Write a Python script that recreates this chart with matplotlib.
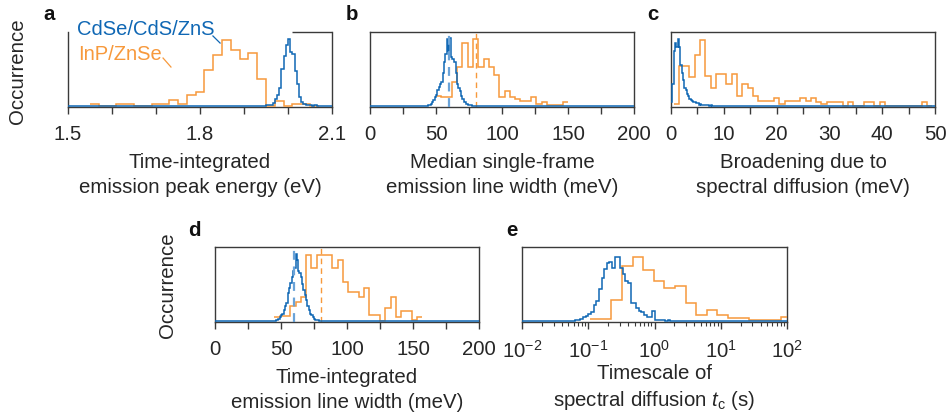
"""Five-panel histogram comparison: CdSe/CdS/ZnS vs InP/ZnSe quantum dots."""
import numpy as np
import matplotlib
matplotlib.use("Agg")
import matplotlib.pyplot as plt
from matplotlib.ticker import LogLocator, NullFormatter

FS = 14.7
plt.rcParams["font.family"] = ["Liberation Sans", "DejaVu Sans"]
plt.rcParams["font.size"] = FS
plt.rcParams["mathtext.fontset"] = "custom"
plt.rcParams["mathtext.rm"] = "Liberation Sans"
plt.rcParams["mathtext.it"] = "Liberation Sans:italic"
plt.rcParams["axes.linewidth"] = 1.0

BLUE = "#0f67b4"
BLUE_LIGHT = "#6aa3d8"
ORANGE = "#f7993c"
TEXT = "#262626"
SPINE = "#3a3a3a"

# --- a: time-integrated emission peak energy (eV) ---
a_orange_edges = [1.55, 1.57, 1.59, 1.61, 1.63, 1.65, 1.67, 1.69, 1.71, 1.73,
                  1.75, 1.77, 1.79, 1.81, 1.83, 1.85, 1.87, 1.89, 1.91, 1.93,
                  1.95, 1.97, 1.99, 2.01, 2.03, 2.05, 2.07]
a_orange = [0.035, 0, 0, 0.035, 0.035, 0, 0, 0.035, 0.035, 0.08,
            0.035, 0.155, 0.19, 0.49, 0.69, 0.89, 0.76, 0.63, 0.71, 0.36,
            0.0, 0.07, 0.0, 0.035, 0.035, 0]
a_blue_start, a_blue_width = 1.945, 0.005
a_blue = [0.0, 0.01, 0.01, 0.02, 0.04, 0.09, 0.15, 0.25, 0.5, 0.68,
          0.82, 0.9, 0.73, 0.7, 0.48, 0.3, 0.12, 0.06, 0.03, 0.02,
          0.01, 0.01, 0.0, 0.01, 0]

# --- b: median single-frame emission line width (meV) ---
b_orange_start, b_orange_width = 50, 4
b_orange = [0.14, 0.12, 0.12, 0.33, 0.53, 0.85, 0.53, 0.9, 0.53, 0.64,
            0.53, 0.42, 0.12, 0.2, 0.12, 0.1, 0.07, 0.07, 0.12, 0.03,
            0.06, 0.01, 0.01, 0.01, 0.05]
b_blue_start, b_blue_width = 44, 1
b_blue = [0.01, 0.02, 0.03, 0.05, 0.08, 0.12, 0.15, 0.22, 0.26, 0.3,
          0.32, 0.45, 0.6, 0.7, 0.9, 0.75, 0.92, 0.66, 0.64, 0.63,
          0.6, 0.45, 0.3, 0.25, 0.2, 0.13, 0.1, 0.05, 0.05, 0.03,
          0.02, 0.01, 0.01, 0]
b_medians = {"blue": 60, "orange": 80}

# --- c: broadening due to spectral diffusion (meV) ---
c_orange_start, c_orange_width = 0.5, 1
c_orange = [0.03, 0.54, 0.54, 0.39, 0.69, 0.89, 0.4, 0.24, 0.44, 0.44,
            0.3, 0.44, 0.14, 0.3, 0.24, 0.14, 0.07, 0.07, 0.07, 0.11,
            0.03, 0.07, 0.07, 0.07, 0.11, 0.07, 0.11, 0.05, 0.03, 0.05,
            0.05, 0.05, 0, 0.05, 0, 0, 0.05, 0.05, 0, 0.05,
            0, 0, 0, 0, 0, 0, 0, 0.05, 0]
c_blue_start, c_blue_width = 0.0, 0.25
c_blue = [0.05, 0.3, 0.75, 0.85, 0.8, 0.9, 0.8, 0.55, 0.45, 0.35,
          0.25, 0.22, 0.16, 0.13, 0.1, 0.08, 0.07, 0.06, 0.05, 0.04,
          0.04, 0.02, 0.03, 0.02, 0.01, 0.01, 0.02, 0.01, 0.01, 0.0,
          0.01, 0.0]

# --- d: time-integrated emission line width (meV) ---
d_orange_start, d_orange_width = 45, 4
d_orange = [0.06, 0.07, 0.07, 0.2, 0.26, 0.32, 0.89, 0.72, 0.89, 0.89,
            0.89, 0.72, 0.83, 0.53, 0.39, 0.39, 0.32, 0.45, 0.08, 0.08,
            0.0, 0.18, 0.32, 0.06, 0.13, 0.13, 0.02, 0.05]
d_blue_start, d_blue_width = 46, 1
d_blue = [0.02, 0.02, 0.03, 0.05, 0.08, 0.1, 0.15, 0.2, 0.25, 0.38,
          0.45, 0.52, 0.6, 0.68, 0.72, 0.9, 0.82, 0.68, 0.65, 0.6,
          0.5, 0.42, 0.35, 0.28, 0.2, 0.15, 0.1, 0.08, 0.05, 0.03,
          0.02, 0.01, 0.01, 0]
d_medians = {"blue": 60, "orange": 80}

# --- e: timescale of spectral diffusion (s), log10 bin edges ---
e_orange_log_edges = [-0.97, -0.81, -0.65, -0.49, -0.33, -0.17, -0.01, 0.15,
                      0.31, 0.47, 0.63, 0.79, 0.95, 1.11, 1.27, 1.43, 1.59,
                      1.75, 1.91, 2.07]
e_orange = [0.03, 0.03, 0.28, 0.74, 0.87, 0.69, 0.54, 0.45, 0.48, 0.24,
            0.08, 0.15, 0.08, 0.04, 0.04, 0.01, 0.01, 0.01, 0.05]
e_blue_log_start, e_blue_log_width = -1.2, 0.04
e_blue = [0.01, 0.02, 0.03, 0.05, 0.07, 0.1, 0.12, 0.22, 0.27, 0.44,
          0.58, 0.7, 0.79, 0.8, 0.71, 0.87, 0.87, 0.71, 0.64, 0.54,
          0.52, 0.24, 0.24, 0.18, 0.13, 0.12, 0.08, 0.06, 0.05, 0.13,
          0.02, 0.01, 0.01, 0.02, 0.0, 0.01, 0.0]


def uniform_edges(start, width, n):
    return start + width * np.arange(n + 1)


def draw_hist(ax, edges, vals, color, xlim, extend=False):
    edges = list(edges)
    vals = list(vals)
    if extend:
        if xlim[0] < edges[0]:
            edges = [xlim[0]] + edges
            vals = [0] + vals
        if xlim[1] > edges[-1]:
            edges = edges + [xlim[1]]
            vals = vals + [0]
    ax.stairs(vals, edges, color=color, linewidth=1.1, baseline=None, zorder=3)


def style_axes(ax, xlim, ticks, labels, xlabel, labelpad=7):
    ax.set_xlim(*xlim)
    ax.set_ylim(-0.012, 1.0)
    ax.set_yticks([])
    if ticks is not None:
        ax.set_xticks(ticks)
        ax.set_xticklabels(labels)
    ax.tick_params(axis="x", direction="out", length=5, width=1.0,
                   colors=SPINE, labelcolor=TEXT, labelsize=FS, pad=7)
    for sp in ax.spines.values():
        sp.set_color(SPINE)
    ax.set_xlabel(xlabel, color=TEXT, fontsize=FS, linespacing=1.35,
                  labelpad=labelpad)


fig = plt.figure(figsize=(9.5, 4.14), dpi=100)

W, H = 950, 414


def add_axes(x0, x1, ytop, ybot):
    return fig.add_axes([x0 / W, 1 - ybot / H, (x1 - x0) / W, (ybot - ytop) / H])


ax_a = add_axes(68, 332, 33, 108)
ax_b = add_axes(370, 634, 33, 108)
ax_c = add_axes(671, 935, 33, 108)
ax_d = add_axes(215, 479, 248, 323)
ax_e = add_axes(522, 787, 248, 323)

# a
xl = (1.5, 2.1)
draw_hist(ax_a, a_orange_edges, a_orange, ORANGE, xl)
draw_hist(ax_a, uniform_edges(a_blue_start, a_blue_width, len(a_blue)), a_blue,
          BLUE, xl, extend=True)
a_ticks = [1.5, 1.6, 1.7, 1.8, 1.9, 2.0, 2.1]
style_axes(ax_a, xl, a_ticks, ["1.5", "", "", "1.8", "", "", "2.1"],
           "Time-integrated\nemission peak energy (eV)")
ax_a.spines["top"].set_visible(False)
ax_a.plot([0.848, 1.0], [1.0, 1.0], transform=ax_a.transAxes, color=SPINE,
          lw=1.0, clip_on=False, solid_capstyle="butt")
ax_a.text(0.034, 0.973, "CdSe/CdS/ZnS", color=BLUE, transform=ax_a.transAxes,
          va="baseline", ha="left", fontsize=14.5)
ax_a.text(0.038, 0.64, "InP/ZnSe", color=ORANGE, transform=ax_a.transAxes,
          va="baseline", ha="left", fontsize=14.5)
ax_a.plot([0.549, 0.576], [0.947, 0.853], transform=ax_a.transAxes,
          color=BLUE, lw=0.9, clip_on=False)
ax_a.plot([0.36, 0.39], [0.653, 0.533], transform=ax_a.transAxes,
          color=ORANGE, lw=0.9, clip_on=False)

# b
xl = (0, 200)
draw_hist(ax_b, uniform_edges(b_orange_start, b_orange_width, len(b_orange)),
          b_orange, ORANGE, xl)
draw_hist(ax_b, uniform_edges(b_blue_start, b_blue_width, len(b_blue)), b_blue,
          BLUE, xl, extend=True)
ax_b.axvline(b_medians["blue"], color=BLUE_LIGHT, lw=1.6, ls=(0, (4, 3)), zorder=4)
ax_b.axvline(b_medians["orange"], color=ORANGE, lw=1.0, ls=(0, (4, 3)), zorder=2)
lin_ticks = [0, 25, 50, 75, 100, 125, 150, 175, 200]
lin_labels = ["0", "", "50", "", "100", "", "150", "", "200"]
style_axes(ax_b, xl, lin_ticks, lin_labels,
           "Median single-frame\nemission line width (meV)")

# c
xl = (0, 50)
draw_hist(ax_c, uniform_edges(c_orange_start, c_orange_width, len(c_orange)),
          c_orange, ORANGE, xl)
draw_hist(ax_c, uniform_edges(c_blue_start, c_blue_width, len(c_blue)), c_blue,
          BLUE, xl, extend=True)
c_ticks = [0, 5, 10, 15, 20, 25, 30, 35, 40, 45, 50]
c_labels = ["0", "", "10", "", "20", "", "30", "", "40", "", "50"]
style_axes(ax_c, xl, c_ticks, c_labels,
           "Broadening due to\nspectral diffusion (meV)")

# d
xl = (0, 200)
draw_hist(ax_d, uniform_edges(d_orange_start, d_orange_width, len(d_orange)),
          d_orange, ORANGE, xl)
draw_hist(ax_d, uniform_edges(d_blue_start, d_blue_width, len(d_blue)), d_blue,
          BLUE, xl, extend=True)
ax_d.axvline(d_medians["blue"], color=BLUE_LIGHT, lw=1.6, ls=(0, (4, 3)), zorder=4)
ax_d.axvline(d_medians["orange"], color=ORANGE, lw=1.0, ls=(0, (4, 3)), zorder=2)
style_axes(ax_d, xl, lin_ticks, lin_labels,
           "Time-integrated\nemission line width (meV)")

# e
xl = (1e-2, 1e2)
ax_e.set_xscale("log")
draw_hist(ax_e, 10 ** np.array(e_orange_log_edges), e_orange, ORANGE, xl)
e_blue_edges = 10 ** uniform_edges(e_blue_log_start, e_blue_log_width, len(e_blue))
draw_hist(ax_e, e_blue_edges, e_blue, BLUE, xl, extend=True)
style_axes(ax_e, xl, None, None,
           "Timescale of\nspectral diffusion $\\it{t}_{\\rm{c}}$ (s)",
           labelpad=2)
ax_e.xaxis.set_major_locator(LogLocator(base=10, numticks=10))
ax_e.xaxis.set_minor_locator(LogLocator(base=10, subs=np.arange(2, 10), numticks=20))
ax_e.xaxis.set_minor_formatter(NullFormatter())
ax_e.tick_params(axis="x", which="minor", direction="out", length=3, width=0.8,
                 colors=SPINE)

# panel letters and y labels
for letter, px, py in [("a", 43, 15), ("b", 346, 15), ("c", 647, 15),
                       ("d", 188, 231), ("e", 506, 231)]:
    fig.text(px / W, 1 - py / H, letter, fontsize=FS, fontweight="bold",
             ha="left", va="center", color="#111111")

fig.text(18 / W, 1 - 71 / H, "Occurrence", rotation=90, ha="center",
         va="center", fontsize=FS, color=TEXT)
fig.text(168 / W, 1 - 285 / H, "Occurrence", rotation=90, ha="center",
         va="center", fontsize=FS, color=TEXT)

fig.savefig("out.png", dpi=100)
